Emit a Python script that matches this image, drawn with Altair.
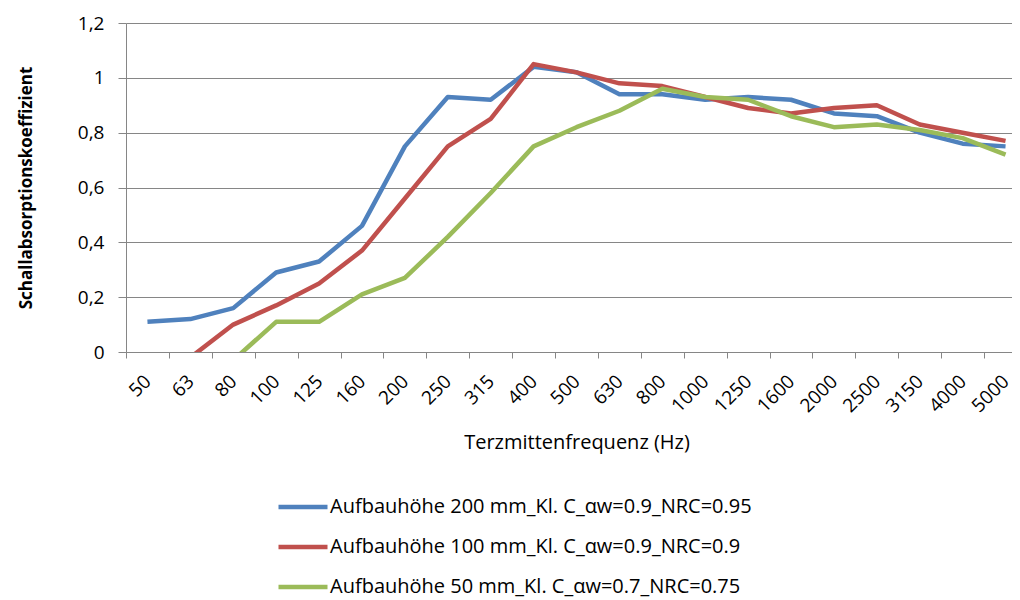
import altair as alt
import pandas as pd

freqs = ["50", "63", "80", "100", "125", "160", "200", "250", "315", "400", "500",
         "630", "800", "1000", "1250", "1600", "2000", "2500", "3150", "4000", "5000"]

blue = [0.11, 0.12, 0.16, 0.29, 0.33, 0.46, 0.75, 0.93, 0.92, 1.04, 1.02,
        0.94, 0.94, 0.92, 0.93, 0.92, 0.87, 0.86, 0.80, 0.76, 0.75]
red = [-0.08, -0.02, 0.10, 0.17, 0.25, 0.37, 0.56, 0.75, 0.85, 1.05, 1.02,
       0.98, 0.97, 0.93, 0.89, 0.87, 0.89, 0.90, 0.83, 0.80, 0.77]
green = [-0.15, -0.10, -0.03, 0.11, 0.11, 0.21, 0.27, 0.42, 0.58, 0.75, 0.82,
         0.88, 0.96, 0.93, 0.92, 0.86, 0.82, 0.83, 0.81, 0.78, 0.72]

series_names = [
    "Aufbauhöhe 200 mm_Kl. C_αw=0.9_NRC=0.95",
    "Aufbauhöhe 100 mm_Kl. C_αw=0.9_NRC=0.9",
    "Aufbauhöhe 50 mm_Kl. C_αw=0.7_NRC=0.75",
]
colors = ["#4F81BD", "#C0504D", "#9BBB59"]
y_ticks = [0, 0.2, 0.4, 0.6, 0.8, 1.0, 1.2]

rows = []
for name, vals in zip(series_names, [blue, red, green]):
    for f, v in zip(freqs, vals):
        rows.append({"f": f, "v": v, "s": name})
df = pd.DataFrame(rows)

FONT = "Open Sans"
GRAY = "#868686"

chart = alt.Chart(df).mark_line(clip=True, strokeWidth=4.5, strokeJoin="round").encode(
    x=alt.X(
        "f:N", sort=freqs, bandPosition=0.5,
        scale=alt.Scale(type="band", range=[0, 901], paddingInner=0, paddingOuter=0),
        axis=alt.Axis(
            title="Terzmittenfrequenz (Hz)", titleFont=FONT, titleFontSize=20,
            titleFontWeight="normal", titleColor="#000000",
            titleY=90, titleBaseline="middle",
            labelAngle=-45, labelAlign="right", labelBaseline="middle",
            labelFont=FONT, labelFontSize=19, labelColor="#000000",
            labelPadding=20, tickBand="extent", tickSize=6, tickColor=GRAY,
            domainColor=GRAY, grid=False, labelOverlap=False,
        ),
    ),
    y=alt.Y(
        "v:Q",
        scale=alt.Scale(domain=[0, 1.2], nice=False, zero=False),
        axis=alt.Axis(
            values=y_ticks, format=".1~f", labelExpr="replace(datum.label, '.', ',')",
            title="Schallabsorptionskoeffizient", titleFont=FONT, titleFontSize=17,
            titleFontWeight="bold", titleColor="#000000",
            titleX=-100, titleY=164.5, titleBaseline="middle", titleAngle=-90,
            labelFont=FONT, labelFontSize=19, labelColor="#000000", labelPadding=14,
            tickSize=8, tickColor=GRAY, domainColor=GRAY,
            grid=True, gridColor=GRAY, gridWidth=1,
        ),
    ),
    color=alt.Color(
        "s:N", sort=series_names,
        scale=alt.Scale(domain=series_names, range=colors),
        legend=alt.Legend(
            title=None, orient="none", legendX=150, legendY=457, direction="vertical",
            symbolType="stroke", symbolSize=2401, symbolStrokeWidth=4.5,
            labelFont=FONT, labelFontSize=20, labelColor="#000000", labelOffset=0,
            rowPadding=3, labelLimit=700,
        ),
    ),
).properties(
    width=886, height=329,
    autosize=alt.AutoSizeParams(type="none"),
    padding={"left": 118, "top": 15, "right": 0, "bottom": 246},
).configure_view(stroke=None)

chart.save("out.html", embed_options={"renderer": "svg", "actions": False})
